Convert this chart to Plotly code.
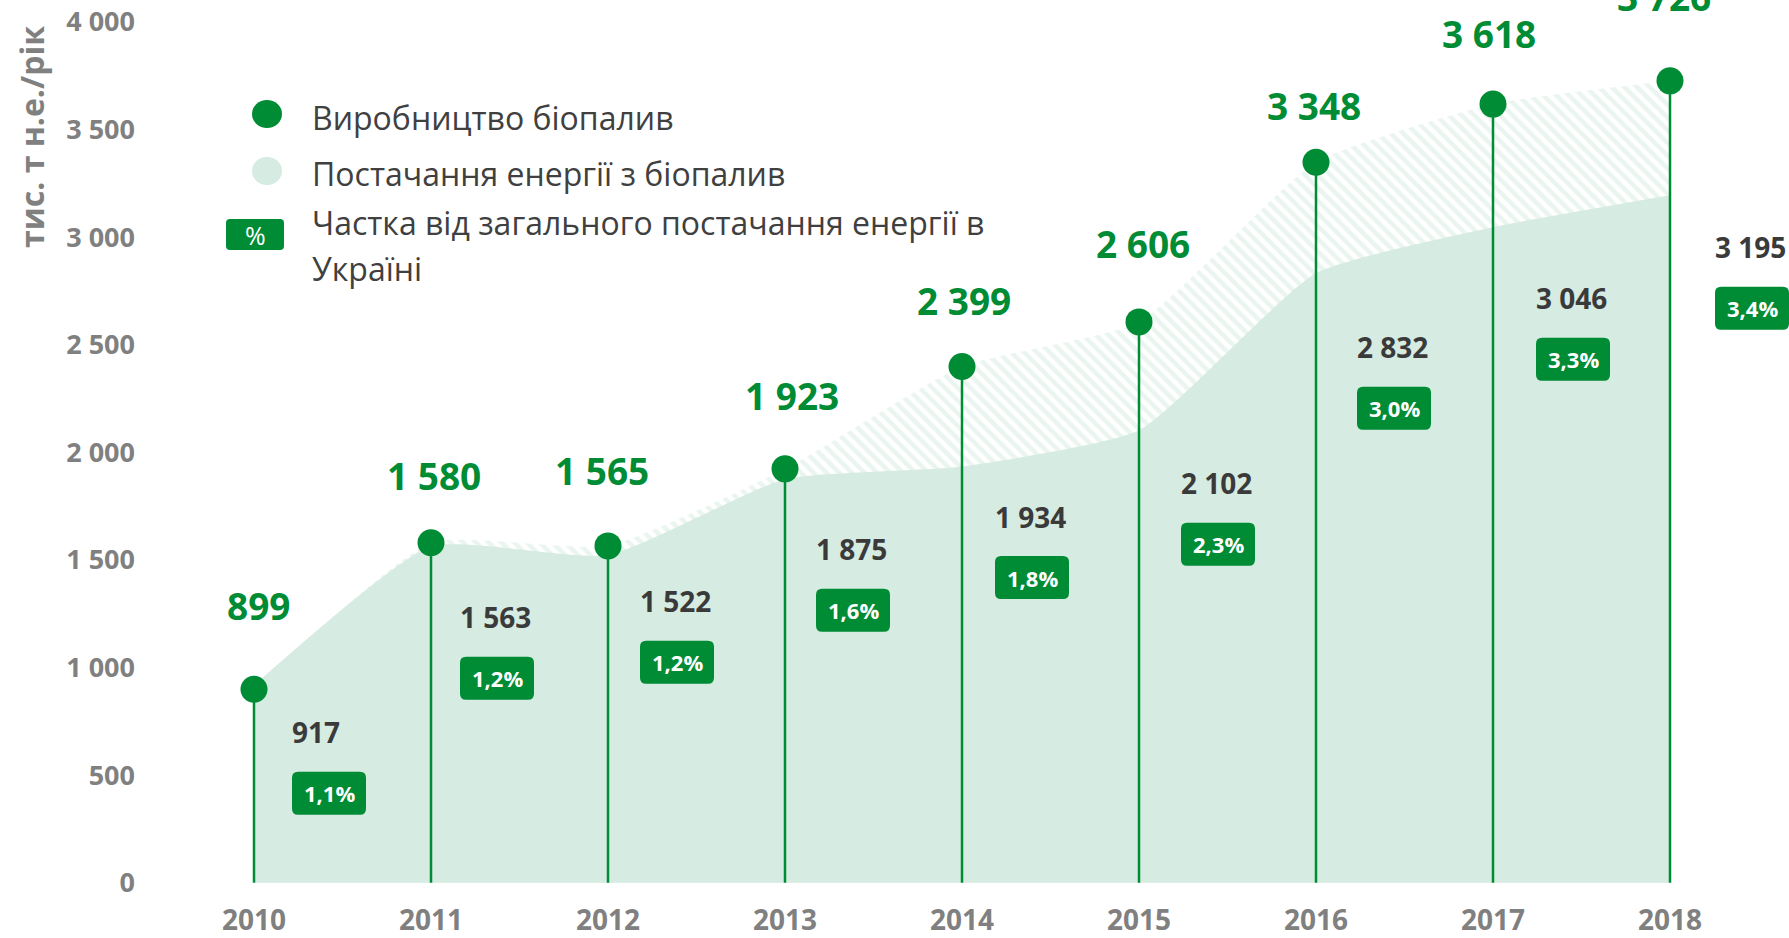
import plotly.graph_objects as go

# ---------------- data ----------------
years = [2010, 2011, 2012, 2013, 2014, 2015, 2016, 2017, 2018]
production = [899, 1580, 1565, 1923, 2399, 2606, 3348, 3618, 3726]
supply = [917, 1563, 1522, 1875, 1934, 2102, 2832, 3046, 3195]
share = ["1,1%", "1,2%", "1,2%", "1,6%", "1,8%", "2,3%", "3,0%", "3,3%", "3,4%"]
y_tick_vals = [0, 500, 1000, 1500, 2000, 2500, 3000, 3500, 4000]
y_tick_text = ["0", "500", "1 000", "1 500", "2 000", "2 500", "3 000", "3 500", "4 000"]
legend_labels = ["Виробництво біопалив", "Постачання енергії з біопалив",
                 "Частка від загального постачання енергії в", "Україні"]
y_title = "тис. т н.е./рік"

# ---------------- style ----------------
GREEN = "#008C35"
LIGHT = "#D6EBE1"
GRAY = "#808080"
DARK = "#3A3A3A"
LEGTXT = "#404040"
FONT = "Open Sans"

W, H = 1789, 938
L, R, T, B = 150, 0, 0, 50
PW, PH = W - L - R, H - T - B

# label offsets (pixels)
prod_dx = [4, 3, -6, 7, 2, 4, -2, -4, -6]
prod_dy = [84, 67, 75, 73, 66, 78, 57, 71, 84]
sup_dx = [38, 29, 32, 31, 33, 42, 41, 43, 45]
sup_drop = [47, 71, 46, 70, 50, 53, 74, 71, 52]
BADGE_GAP = 61
BADGE_W, BADGE_H, BADGE_R = 74, 43, 6


def px_x(px):
    return (px - L) / PW


def px_y(py):
    return 1 - (py - T) / PH


def rrect(cx, cy, w, h, r):
    x0, x1 = cx - w / 2, cx + w / 2
    y0, y1 = cy - h / 2, cy + h / 2
    return (f"M{x0 + r},{y0} L{x1 - r},{y0} Q{x1},{y0} {x1},{y0 + r} "
            f"L{x1},{y1 - r} Q{x1},{y1} {x1 - r},{y1} L{x0 + r},{y1} "
            f"Q{x0},{y1} {x0},{y1 - r} L{x0},{y0 + r} Q{x0},{y0} {x0 + r},{y0} Z")


def fmt(v):
    return f"{v:,}".replace(",", " ")


fig = go.Figure()

# production area (hatched)
fig.add_trace(go.Scatter(
    x=years, y=production, mode="lines", fill="tozeroy",
    line=dict(color="rgba(0,0,0,0)", width=0, shape="spline", smoothing=0.5),
    fillcolor="white",
    fillpattern=dict(shape="\\", fgcolor=LIGHT, bgcolor="white", size=9, solidity=0.5),
    hoverinfo="skip", showlegend=False))

# supply area (solid)
fig.add_trace(go.Scatter(
    x=years, y=supply, mode="lines", fill="tozeroy",
    line=dict(color=LIGHT, width=0, shape="spline", smoothing=0.5),
    fillcolor=LIGHT, hoverinfo="skip", showlegend=False))

# stems
sx, sy = [], []
for yr, p in zip(years, production):
    sx += [yr, yr, None]
    sy += [0, p, None]
fig.add_trace(go.Scatter(x=sx, y=sy, mode="lines", line=dict(color=GREEN, width=2.5),
                         hoverinfo="skip", showlegend=False))

# dots
fig.add_trace(go.Scatter(x=years, y=production, mode="markers",
                         marker=dict(color=GREEN, size=27), hoverinfo="skip", showlegend=False))

ann = []
shapes = []
for i, yr in enumerate(years):
    ann.append(dict(x=yr, y=production[i], xref="x", yref="y", text=fmt(production[i]),
                    showarrow=False, xanchor="center", yanchor="middle",
                    xshift=prod_dx[i], yshift=prod_dy[i],
                    font=dict(family=FONT, size=37, color=GREEN, weight="bold")))
    ann.append(dict(x=yr, y=supply[i], xref="x", yref="y", text=fmt(supply[i]),
                    showarrow=False, xanchor="left", yanchor="middle",
                    xshift=sup_dx[i] - 2, yshift=-sup_drop[i],
                    font=dict(family=FONT, size=28, color=DARK, weight="bold")))
    bcx = sup_dx[i] + BADGE_W / 2
    bcy = -(sup_drop[i] + BADGE_GAP)
    shapes.append(dict(type="path", xref="x", yref="y", xsizemode="pixel", ysizemode="pixel",
                       xanchor=yr, yanchor=supply[i],
                       path=rrect(bcx, bcy, BADGE_W, BADGE_H, BADGE_R),
                       fillcolor=GREEN, line=dict(width=0), layer="above"))
    ann.append(dict(x=yr, y=supply[i], xref="x", yref="y", text=share[i],
                    showarrow=False, xanchor="center", yanchor="middle",
                    xshift=bcx, yshift=bcy,
                    font=dict(family=FONT, size=22, color="white", weight="bold")))

# legend (custom)
shapes.append(dict(type="circle", xref="paper", yref="paper", xsizemode="pixel", ysizemode="pixel",
                   xanchor=px_x(267), yanchor=px_y(114), x0=-15, x1=15, y0=-14, y1=14,
                   fillcolor=GREEN, line=dict(width=0), layer="above"))
shapes.append(dict(type="circle", xref="paper", yref="paper", xsizemode="pixel", ysizemode="pixel",
                   xanchor=px_x(267), yanchor=px_y(171), x0=-15, x1=15, y0=-14, y1=14,
                   fillcolor=LIGHT, line=dict(width=0), layer="above"))
shapes.append(dict(type="path", xref="paper", yref="paper", xsizemode="pixel", ysizemode="pixel",
                   xanchor=px_x(255), yanchor=px_y(234.5), path=rrect(0, 0, 58, 31, 4),
                   fillcolor=GREEN, line=dict(width=0), layer="above"))
ann.append(dict(x=px_x(255), y=px_y(234.5), xref="paper", yref="paper", text="%", showarrow=False,
                xanchor="center", yanchor="middle",
                font=dict(family=FONT, size=25, color="white")))
for lbl, yy in zip(legend_labels, [117, 173, 222, 268]):
    ann.append(dict(x=px_x(310), y=px_y(yy), xref="paper", yref="paper", text=lbl, showarrow=False,
                    xanchor="left", yanchor="middle",
                    font=dict(family=FONT, size=32, color=LEGTXT)))

# y-axis title
ann.append(dict(x=px_x(31), y=px_y(137), xref="paper", yref="paper", text=y_title, showarrow=False,
                textangle=-90, xanchor="center", yanchor="middle",
                font=dict(family=FONT, size=32, color=GRAY, weight="bold")))

kx = 177.0
x0 = 2010 - (254 - L) / kx
x1 = x0 + PW / kx
ky = 0.2152
y1 = 882.7 / ky
y0 = -(PH - 882.7) / ky

fig.update_layout(
    width=W, height=H,
    margin=dict(l=L, r=R, t=T, b=B, pad=0, autoexpand=False),
    paper_bgcolor="white", plot_bgcolor="white",
    showlegend=False, hovermode=False,
    annotations=ann, shapes=shapes,
    xaxis=dict(range=[x0, x1], tickvals=years, ticktext=[str(y) for y in years],
               showgrid=False, zeroline=False, showline=False, ticks="",
               automargin=False, ticklabelstandoff=13,
               tickfont=dict(family=FONT, size=28, color=GRAY, weight="bold")),
    yaxis=dict(range=[y0, y1], tickvals=y_tick_vals, ticktext=y_tick_text,
               showgrid=False, zeroline=False, showline=False, ticks="",
               automargin=False, ticklabelstandoff=14,
               tickfont=dict(family=FONT, size=27, color=GRAY, weight="bold")),
)

fig.write_html("out.html", config={"displayModeBar": False},
               post_script="document.body.style.margin='0';document.body.style.overflow='hidden';")
